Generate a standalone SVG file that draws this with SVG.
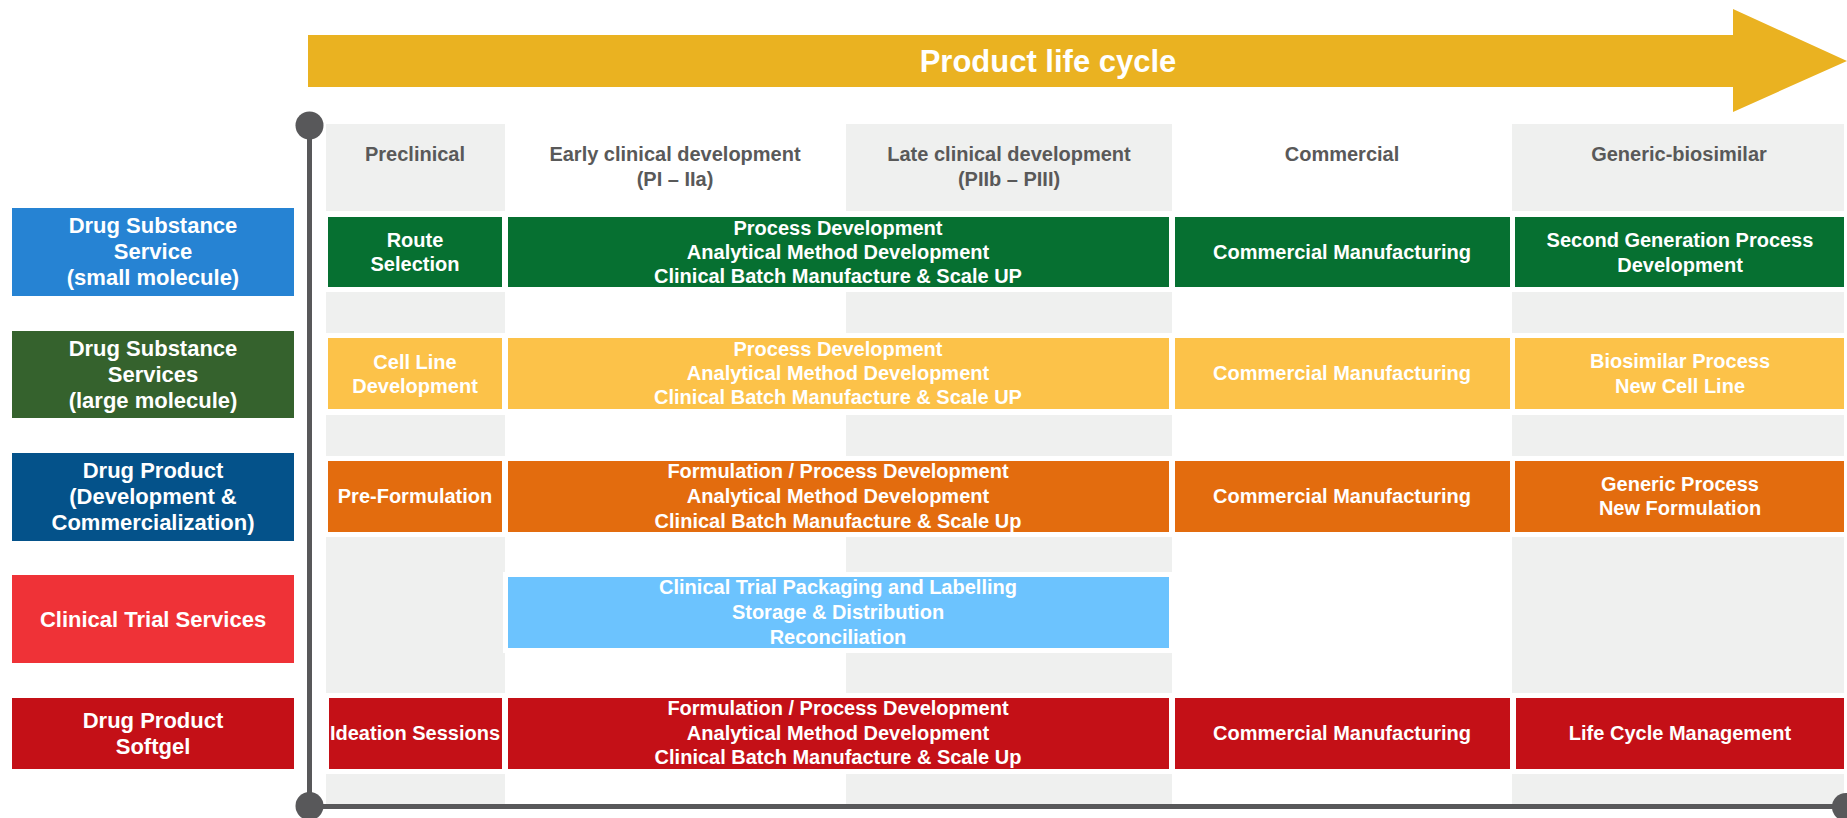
<svg xmlns="http://www.w3.org/2000/svg" width="1847" height="818" viewBox="0 0 1847 818">
<style>
text{font-family:"Liberation Sans",Arial,sans-serif;font-weight:bold;text-anchor:middle}
.hd{font-size:20px;fill:#595959}
.lb{font-size:22px;fill:#fff}
.bx{font-size:20px;fill:#fff}
.gr{fill:#EFF0EF}
.g{fill:#067031}
.y{fill:#FCC249}
.o{fill:#E36C0E}
.b{fill:#6CC3FE}
.r{fill:#C41017}
.ax{stroke:#58585A;stroke-width:5;fill:none}
.dot{fill:#58585A}
</style>
<rect width="1847" height="818" fill="#fff"/>
<g id="lifecycle-arrow">
<polygon points="308,35 1733,35 1733,9 1847,61 1733,112 1733,87 308,87" fill="#EAB221"/>
<text x="1048" y="72" style="font-size:31px" fill="#fff">Product life cycle</text>
</g>
<g id="phase-columns">
<rect class="gr" x="326" y="124" width="179" height="87"/>
<rect class="gr" x="846" y="124" width="326" height="87"/>
<rect class="gr" x="1512" y="124" width="332" height="87"/>
<rect class="gr" x="326" y="292" width="179" height="41"/>
<rect class="gr" x="846" y="292" width="326" height="41"/>
<rect class="gr" x="1512" y="292" width="332" height="41"/>
<rect class="gr" x="326" y="415" width="179" height="41"/>
<rect class="gr" x="846" y="415" width="326" height="41"/>
<rect class="gr" x="1512" y="415" width="332" height="41"/>
<rect class="gr" x="326" y="537" width="179" height="156"/>
<rect class="gr" x="846" y="537" width="326" height="156"/>
<rect class="gr" x="1512" y="537" width="332" height="156"/>
<rect class="gr" x="326" y="774" width="179" height="31"/>
<rect class="gr" x="846" y="774" width="326" height="31"/>
<rect class="gr" x="1512" y="774" width="332" height="31"/>
</g>
<g id="phase-headers">
<text class="hd" x="415" y="161">Preclinical</text>
<text class="hd" x="675" y="161">Early clinical development</text>
<text class="hd" x="675" y="186">(PI – IIa)</text>
<text class="hd" x="1009" y="161">Late clinical development</text>
<text class="hd" x="1009" y="186">(PIIb – PIII)</text>
<text class="hd" x="1342" y="161">Commercial</text>
<text class="hd" x="1679" y="161">Generic-biosimilar</text>
</g>
<g id="axis">
<line class="ax" x1="309.5" y1="125" x2="309.5" y2="807"/>
<line class="ax" x1="309.5" y1="806.5" x2="1846" y2="806.5"/>
<circle class="dot" cx="309.5" cy="125.5" r="14"/>
<circle class="dot" cx="309.5" cy="806" r="14"/>
<circle class="dot" cx="1846" cy="807" r="14"/>
</g>
<g id="label-ds-small">
<rect x="12" y="208" width="282" height="88" fill="#2683D3"/>
<text class="lb" x="153" y="233">Drug Substance</text>
<text class="lb" x="153" y="259">Service</text>
<text class="lb" x="153" y="285">(small molecule)</text>
</g>
<g id="label-ds-large">
<rect x="12" y="331" width="282" height="87" fill="#35622D"/>
<text class="lb" x="153" y="356">Drug Substance</text>
<text class="lb" x="153" y="382">Services</text>
<text class="lb" x="153" y="408">(large molecule)</text>
</g>
<g id="label-dp">
<rect x="12" y="453" width="282" height="88" fill="#04528A"/>
<text class="lb" x="153" y="478">Drug Product</text>
<text class="lb" x="153" y="504">(Development &amp;</text>
<text class="lb" x="153" y="530">Commercialization)</text>
</g>
<g id="label-cts">
<rect x="12" y="575" width="282" height="88" fill="#EF3237"/>
<text class="lb" x="153" y="627">Clinical Trial Services</text>
</g>
<g id="label-softgel">
<rect x="12" y="698" width="282" height="71" fill="#C41017"/>
<text class="lb" x="153" y="728">Drug Product</text>
<text class="lb" x="153" y="754">Softgel</text>
</g>
<g id="row1">
<rect class="g" x="328" y="217" width="174" height="70"/>
<text class="bx" x="415" y="247">Route</text>
<text class="bx" x="415" y="271">Selection</text>
<rect class="g" x="508" y="217" width="661" height="70"/>
<text class="bx" x="838" y="235">Process Development</text>
<text class="bx" x="838" y="259">Analytical Method Development</text>
<text class="bx" x="838" y="283">Clinical Batch Manufacture &amp; Scale UP</text>
<rect class="g" x="1175" y="217" width="335" height="70"/>
<text class="bx" x="1342" y="259">Commercial Manufacturing</text>
<rect class="g" x="1515" y="217" width="329" height="70"/>
<text class="bx" x="1680" y="247">Second Generation Process</text>
<text class="bx" x="1680" y="272">Development</text>
</g>
<g id="row2">
<rect class="y" x="328" y="338" width="174" height="71"/>
<text class="bx" x="415" y="369">Cell Line</text>
<text class="bx" x="415" y="393">Development</text>
<rect class="y" x="508" y="338" width="661" height="71"/>
<text class="bx" x="838" y="356">Process Development</text>
<text class="bx" x="838" y="380">Analytical Method Development</text>
<text class="bx" x="838" y="404">Clinical Batch Manufacture &amp; Scale UP</text>
<rect class="y" x="1175" y="338" width="335" height="71"/>
<text class="bx" x="1342" y="380">Commercial Manufacturing</text>
<rect class="y" x="1515" y="338" width="329" height="71"/>
<text class="bx" x="1680" y="368">Biosimilar Process</text>
<text class="bx" x="1680" y="393">New Cell Line</text>
</g>
<g id="row3">
<rect class="o" x="328" y="461" width="174" height="71"/>
<text class="bx" x="415" y="503">Pre-Formulation</text>
<rect class="o" x="508" y="461" width="661" height="71"/>
<text class="bx" x="838" y="478">Formulation / Process Development</text>
<text class="bx" x="838" y="503">Analytical Method Development</text>
<text class="bx" x="838" y="528">Clinical Batch Manufacture &amp; Scale Up</text>
<rect class="o" x="1175" y="461" width="335" height="71"/>
<text class="bx" x="1342" y="503">Commercial Manufacturing</text>
<rect class="o" x="1515" y="461" width="329" height="71"/>
<text class="bx" x="1680" y="491">Generic Process</text>
<text class="bx" x="1680" y="515">New Formulation</text>
</g>
<g id="row4">
<rect x="503" y="572" width="671" height="81" fill="#fff"/>
<rect class="b" x="508" y="577" width="661" height="71"/>
<text class="bx" x="838" y="594">Clinical Trial Packaging and Labelling</text>
<text class="bx" x="838" y="619">Storage &amp; Distribution</text>
<text class="bx" x="838" y="644">Reconciliation</text>
</g>
<g id="row5">
<rect class="r" x="329" y="698" width="173" height="71"/>
<text class="bx" x="415" y="740">Ideation Sessions</text>
<rect class="r" x="508" y="698" width="661" height="71"/>
<text class="bx" x="838" y="715">Formulation / Process Development</text>
<text class="bx" x="838" y="740">Analytical Method Development</text>
<text class="bx" x="838" y="764">Clinical Batch Manufacture &amp; Scale Up</text>
<rect class="r" x="1175" y="698" width="335" height="71"/>
<text class="bx" x="1342" y="740">Commercial Manufacturing</text>
<rect class="r" x="1516" y="698" width="328" height="71"/>
<text class="bx" x="1680" y="740">Life Cycle Management</text>
</g>
<g id="connectors"></g>
</svg>
